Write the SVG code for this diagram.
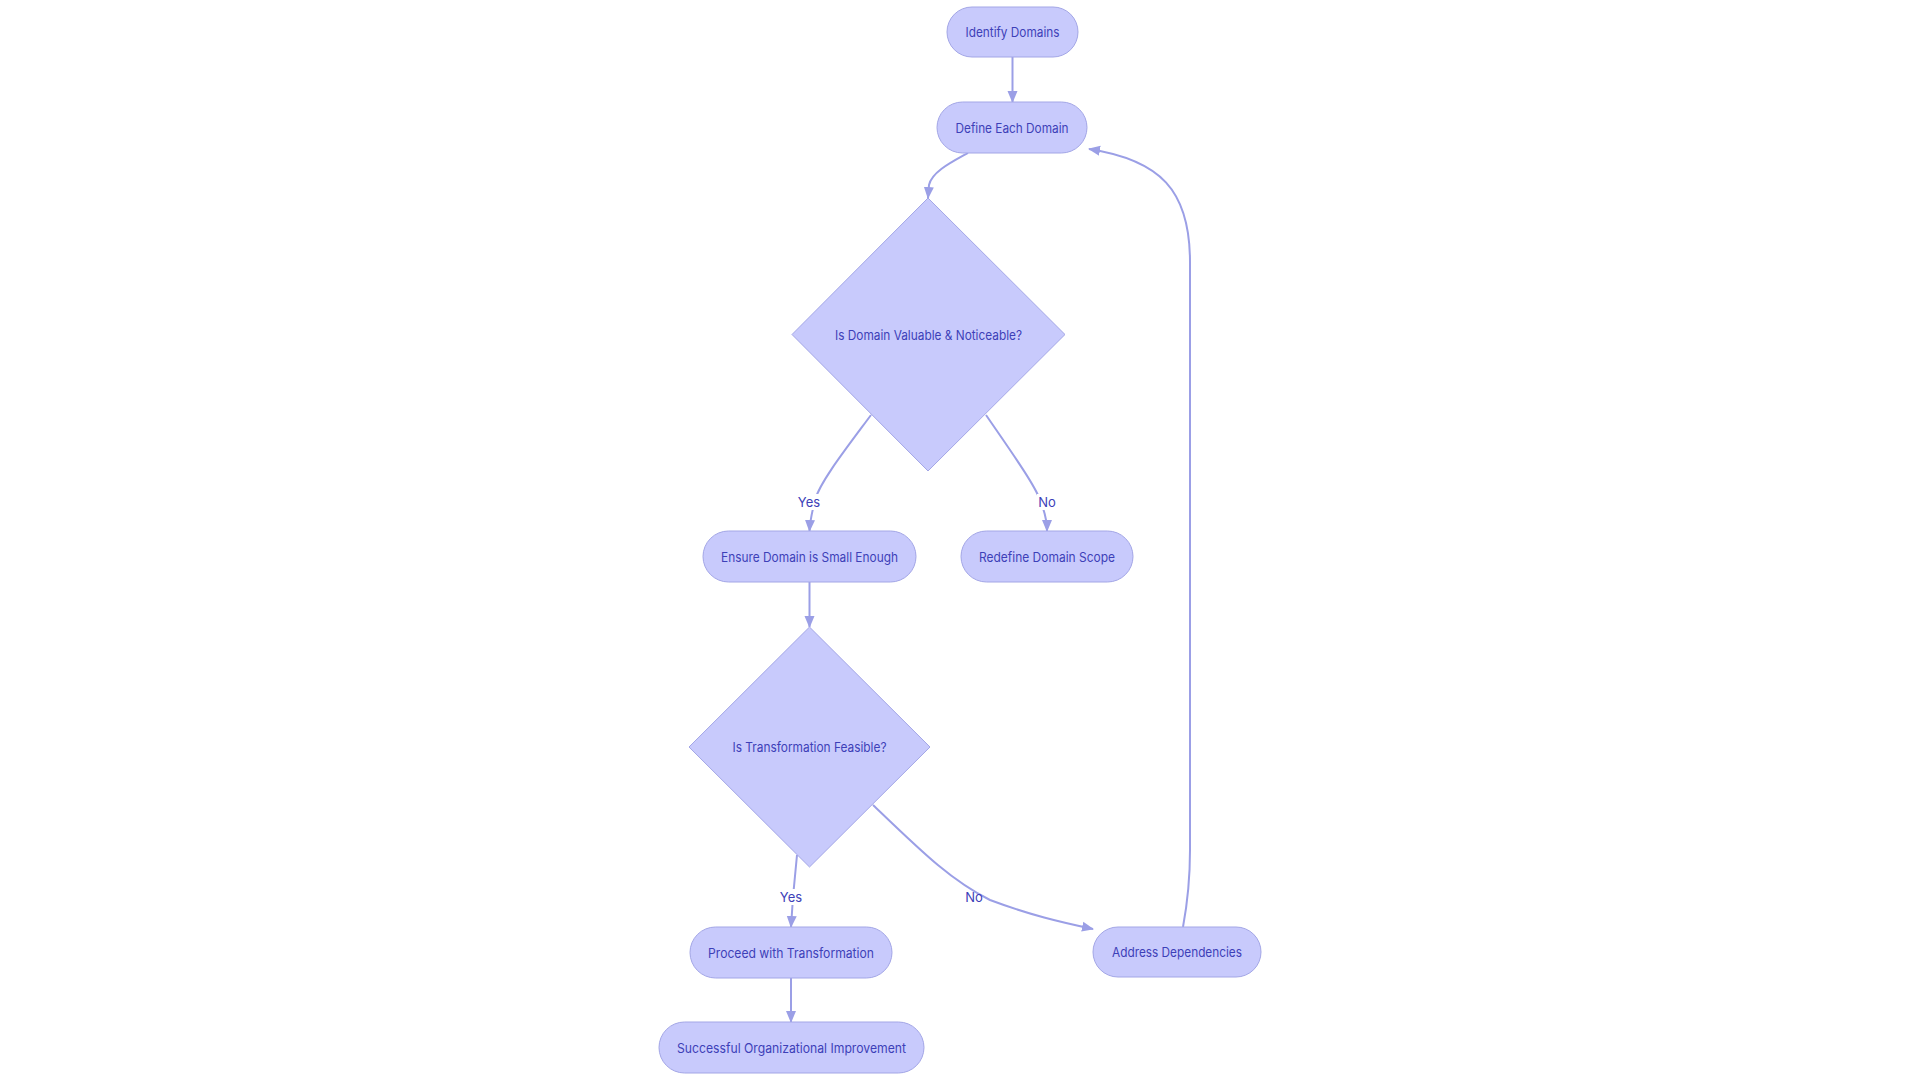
<svg xmlns="http://www.w3.org/2000/svg" width="1920" height="1080" viewBox="0 0 1920 1080">
<defs>
<style>
.node rect,.node polygon{fill:#c8cafc;stroke:#a3a6e6;stroke-width:1}
.node text{font-family:Inter,"Noto Sans","DejaVu Sans",sans-serif;font-size:13px;fill:#3d40b8;text-anchor:middle;dominant-baseline:central}
.edge{fill:none;stroke:#9b9fe6;stroke-width:2}
.lbl rect{fill:#ffffff}
.lbl text{font-family:Inter,"Noto Sans","DejaVu Sans",sans-serif;font-size:13px;fill:#3d40b8;text-anchor:middle;dominant-baseline:central}
</style>
<marker id="arr" viewBox="0 0 12 12" refX="11" refY="6" markerWidth="12" markerHeight="12" orient="auto" markerUnits="userSpaceOnUse">
<path d="M0,1 L12,6 L0,11 z" fill="#9b9fe6"/>
</marker>
</defs>
<rect width="1920" height="1080" fill="#ffffff"/>
<g id="connectors">
<path class="edge" d="M1012.5,57 L1012.5,102" marker-end="url(#arr)"/>
<path class="edge" d="M968,153 C950,163 932,172 929,185 L928,198" marker-end="url(#arr)"/>
<path class="edge" d="M871,415 C845,450 820,482 815,500 C812,512 810,520 809.5,531" marker-end="url(#arr)"/>
<path class="edge" d="M986,415 C1010,450 1035,485 1040,500 C1045,512 1047,520 1047,531" marker-end="url(#arr)"/>
<path class="edge" d="M809.5,582 L809.5,627" marker-end="url(#arr)"/>
<path class="edge" d="M797,855 L793,897 L791,927" marker-end="url(#arr)"/>
<path class="edge" d="M873,805 C920,850 950,880 990,900 C1030,915 1060,922 1093,929" marker-end="url(#arr)"/>
<path class="edge" d="M791,978 L791,1022" marker-end="url(#arr)"/>
<path class="edge" d="M1183,927 C1188,900 1190,880 1190,850 L1190,262 C1190,190 1160,160 1089,149" marker-end="url(#arr)"/>
</g>
<g id="edge-labels">
<g class="lbl"><rect x="797" y="494" width="24" height="16"/><text x="809" y="502">Yes</text></g>
<g class="lbl"><rect x="1037" y="494" width="20" height="16"/><text x="1047" y="502">No</text></g>
<g class="lbl"><rect x="779" y="889" width="24" height="16"/><text x="791" y="897">Yes</text></g>
<g class="lbl"><text x="974" y="897">No</text></g>
</g>
<g id="identify" class="node"><rect x="947" y="7" width="131" height="50" rx="25"/><text x="1012.5" y="32" textLength="94" lengthAdjust="spacingAndGlyphs">Identify Domains</text></g>
<g id="define" class="node"><rect x="937" y="102" width="150" height="51" rx="25.5"/><text x="1012" y="127.5" textLength="113" lengthAdjust="spacingAndGlyphs">Define Each Domain</text></g>
<g id="valuable" class="node"><polygon points="928,198 1065,334.5 928,471 792,334.5"/><text x="928.5" y="334.5" textLength="187" lengthAdjust="spacingAndGlyphs">Is Domain Valuable &amp; Noticeable?</text></g>
<g id="ensure" class="node"><rect x="703" y="531" width="213" height="51" rx="25.5"/><text x="809.5" y="556.5" textLength="177" lengthAdjust="spacingAndGlyphs">Ensure Domain is Small Enough</text></g>
<g id="redefine" class="node"><rect x="961" y="531" width="172" height="51" rx="25.5"/><text x="1047" y="556.5" textLength="136" lengthAdjust="spacingAndGlyphs">Redefine Domain Scope</text></g>
<g id="feasible" class="node"><polygon points="809.5,627 930,747 809.5,867 689,747"/><text x="809.5" y="747" textLength="154" lengthAdjust="spacingAndGlyphs">Is Transformation Feasible?</text></g>
<g id="proceed" class="node"><rect x="690" y="927" width="202" height="51" rx="25.5"/><text x="791" y="952.5" textLength="166" lengthAdjust="spacingAndGlyphs">Proceed with Transformation</text></g>
<g id="address" class="node"><rect x="1093" y="927" width="168" height="50" rx="25"/><text x="1177" y="952" textLength="130" lengthAdjust="spacingAndGlyphs">Address Dependencies</text></g>
<g id="success" class="node"><rect x="659" y="1022" width="265" height="51" rx="25.5"/><text x="791.5" y="1047.5" textLength="229" lengthAdjust="spacingAndGlyphs">Successful Organizational Improvement</text></g>
</svg>
